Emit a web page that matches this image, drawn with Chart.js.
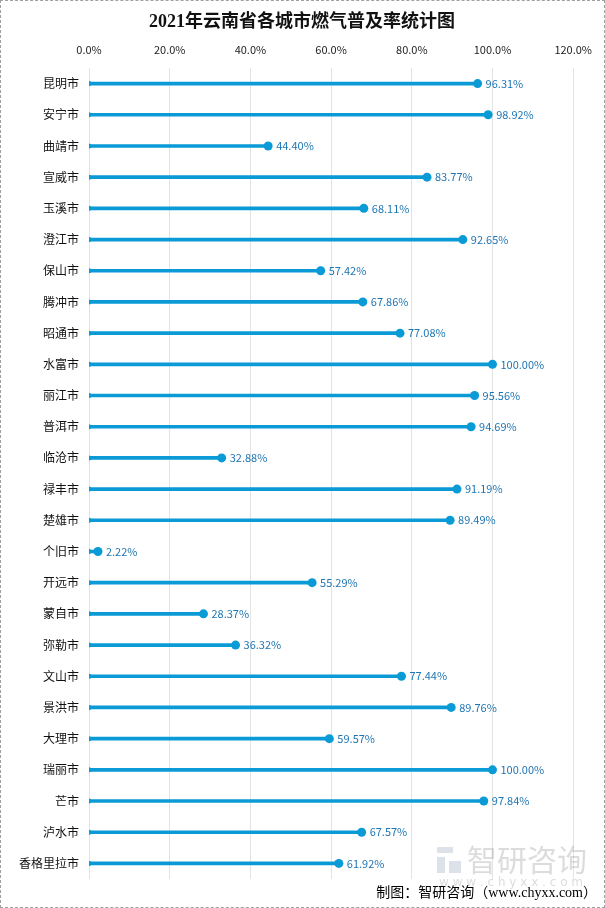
<!DOCTYPE html>
<html>
<head>
<meta charset="utf-8">
<script src="https://cdn.jsdelivr.net/npm/chart.js@4.4.1/dist/chart.umd.min.js"></script>
<style>
  body { margin: 0; background: #fff; }
  #wrap { width: 605px; height: 908px; position: relative; box-sizing: border-box; border: 1px dashed #a0a0a0; }
  canvas { display: block; }
</style>
</head>
<body>
<div id="wrap"><canvas id="grafico" width="603" height="906"></canvas></div>
<script>
// 城市与燃气普及率 (%)
const cities = ["昆明市", "安宁市", "曲靖市", "宣威市", "玉溪市", "澄江市", "保山市", "腾冲市", "昭通市", "水富市",
  "丽江市", "普洱市", "临沧市", "禄丰市", "楚雄市", "个旧市", "开远市", "蒙自市", "弥勒市", "文山市",
  "景洪市", "大理市", "瑞丽市", "芒市", "泸水市", "香格里拉市"];
const rates = [96.31, 98.92, 44.40, 83.77, 68.11, 92.65, 57.42, 67.86, 77.08, 100.00,
  95.56, 94.69, 32.88, 91.19, 89.49, 2.22, 55.29, 28.37, 36.32, 77.44,
  89.76, 59.57, 100.00, 97.84, 67.57, 61.92];
const zeros = cities.map(() => 0);
const xTicks = [0, 20, 40, 60, 80, 100, 120];

const blue = "#0a9ad6";
const cjk = "'Noto Sans CJK SC', 'Noto Sans', sans-serif";

const decor = {
  id: "decor",
  afterDatasetsDraw(chart) {
    const ctx = chart.ctx;
    const pts = chart.getDatasetMeta(1).data;
    ctx.save();
    ctx.font = "11px " + cjk;
    ctx.fillStyle = "#1d75b3";
    ctx.textBaseline = "middle";
    ctx.textAlign = "left";
    pts.forEach((p, i) => {
      ctx.fillText(rates[i].toFixed(2) + "%", p.x + 8, p.y);
    });
    ctx.restore();
  },
  afterDraw(chart) {
    const ctx = chart.ctx;
    ctx.save();
    // 标题
    ctx.fillStyle = "#111";
    ctx.textAlign = "center";
    ctx.textBaseline = "middle";
    ctx.font = "bold 18px 'Liberation Serif', 'Noto Sans CJK SC', serif";
    ctx.fillText("2021年云南省各城市燃气普及率统计图", 301, 21);
    // 水印
    ctx.globalAlpha = 0.3;
    ctx.fillStyle = "#8a9bb8";
    ctx.fillRect(436, 846, 16, 6);
    ctx.fillRect(436, 856, 8, 16);
    ctx.fillRect(448, 860, 12, 12);
    ctx.fillStyle = "#8c8c8c";
    ctx.font = "30px " + cjk;
    ctx.textAlign = "left";
    ctx.fillText("智研咨询", 466, 859);
    ctx.font = "12px 'DejaVu Sans', sans-serif";
    ctx.fillText("w w w . c h y x x . c o m", 438, 882);
    ctx.globalAlpha = 1;
    // 来源
    ctx.fillStyle = "#000";
    ctx.font = "14px 'Liberation Serif', 'Noto Sans CJK SC', serif";
    ctx.textAlign = "right";
    ctx.fillText("制图：智研咨询（www.chyxx.com）", 596, 892);
    ctx.restore();
  }
};

new Chart(document.getElementById("grafico").getContext("2d"), {
  type: "bar",
  data: {
    labels: cities,
    datasets: [
      { type: "bar", data: rates, backgroundColor: blue, barThickness: 3, order: 3 },
      { type: "line", data: rates, showLine: false, pointRadius: 4.5, pointHoverRadius: 4.5,
        pointBackgroundColor: blue, pointBorderWidth: 0, order: 1 },
      { type: "line", data: zeros, showLine: false, pointRadius: 2.5, pointHoverRadius: 2.5,
        pointBackgroundColor: blue, pointBorderWidth: 0, order: 2 }
    ]
  },
  options: {
    indexAxis: "y",
    responsive: false,
    animation: false,
    events: [],
    layout: { padding: { left: 0, right: 28, top: 0, bottom: 28 } },
    plugins: { legend: { display: false }, tooltip: { enabled: false }, title: { display: false } },
    scales: {
      x: {
        position: "top",
        min: 0, max: 120,
        afterBuildTicks: (s) => { s.ticks = xTicks.map((v) => ({ value: v })); },
        afterFit: (s) => { s.height = 67; },
        grid: { color: "#e3e3e3", drawTicks: false },
        border: { display: false },
        ticks: { color: "#222", padding: 12, font: { size: 11, family: cjk },
          callback: (v) => Number(v).toFixed(1) + "%" }
      },
      y: {
        afterFit: (s) => { s.width = 88; },
        grid: { display: false, drawTicks: false },
        border: { display: false },
        ticks: { color: "#111", padding: 10, font: { size: 12, family: cjk } }
      }
    }
  },
  plugins: [decor]
});
</script>
</body>
</html>
